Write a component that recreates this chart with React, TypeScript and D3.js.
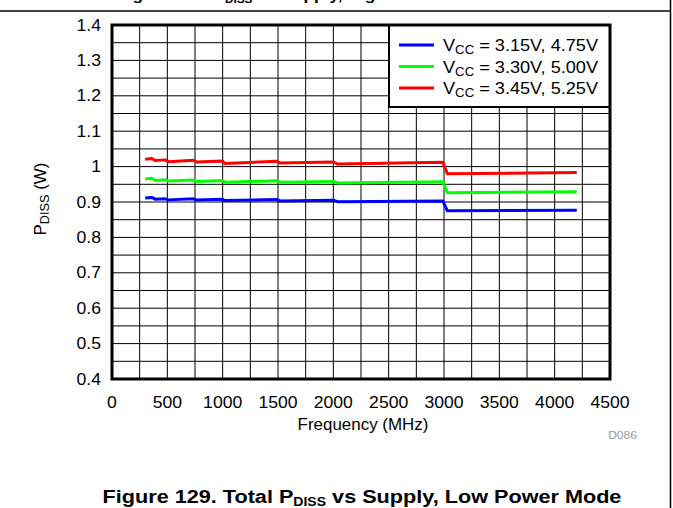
import React from "react";
import * as d3 from "d3";

const freqs = [300, 360, 390, 480, 510, 735, 765, 1000, 1020, 1490, 1520, 2000, 2040, 2990, 3030, 4200];
const vcc345 = [1.021, 1.023, 1.017, 1.019, 1.014, 1.018, 1.013, 1.016, 1.009, 1.015, 1.010, 1.013, 1.007, 1.012, 0.980, 0.983];
const vcc330 = [0.965, 0.967, 0.961, 0.963, 0.959, 0.962, 0.958, 0.961, 0.956, 0.960, 0.956, 0.958, 0.954, 0.957, 0.926, 0.929];
const vcc315 = [0.911, 0.913, 0.908, 0.909, 0.906, 0.909, 0.906, 0.908, 0.904, 0.907, 0.903, 0.905, 0.901, 0.903, 0.875, 0.877];

const xTicks = [0, 500, 1000, 1500, 2000, 2500, 3000, 3500, 4000, 4500];
const yTicks = [0.4, 0.5, 0.6, 0.7, 0.8, 0.9, 1, 1.1, 1.2, 1.3, 1.4];

const series = [
    {name: "3.15V, 4.75V", values: vcc315, color: "#0000ff"},
    {name: "3.30V, 5.00V", values: vcc330, color: "#00ff00"},
    {name: "3.45V, 5.25V", values: vcc345, color: "#ff0000"},
];

const font = "Arial, 'Liberation Sans', sans-serif";

// text slightly stretched sideways, the reference glyphs are wider than plain Arial
const T = ({x, y, sx = 1.1, size = 16, anchor = "start", weight = "normal", fill = "#000", rotate = 0, children}: any) => (
    <text transform={`translate(${x},${y}) rotate(${rotate}) scale(${sx},1)`} textAnchor={anchor}
          fontSize={size} fontWeight={weight} fill={fill}>
        {children}
    </text>
);

export default function App() {
    const W = 673, H = 508;
    const left = 112, right = 610, top = 25, bottom = 379;

    const x = d3.scaleLinear().domain([0, 4500]).range([left, right]);
    const y = d3.scaleLinear().domain([0.4, 1.4]).range([bottom, top]);

    const line = d3.line<number>()
        .x((d, i) => x(freqs[i]))
        .y((d) => y(d));

    const vGrid = d3.range(250, 4500, 250);
    const hGrid = d3.range(0.45, 1.4, 0.05);

    const lgX = 389, lgY = 25, lgW = right - 389, lgH = 82;

    return (
        <svg width={W} height={H} style={{position: "absolute", left: 0, top: 0}} fontFamily={font}>
            <rect width={W} height={H} fill="#fff"/>
            {/* caption of the figure above, cut off by the page crop */}
            <T x={117} y={0} size={15.5} sx={1.12} weight="bold">
                Figure 128. P<tspan fontSize={10.5} dy={3}>DISS</tspan><tspan dy={-3}> vs Supply, High Power Mode</tspan>
            </T>
            <line x1={0} x2={671} y1={11} y2={11} stroke="#000" strokeWidth={1.5}/>
            <line x1={670.5} x2={670.5} y1={0} y2={H} stroke="#000" strokeWidth={1.5}/>

            <g>
                {vGrid.map(v => (
                    <line key={"v" + v} x1={x(v)} x2={x(v)} y1={top} y2={bottom} stroke="#000" strokeWidth={1}/>
                ))}
                {hGrid.map(v => (
                    <line key={"h" + v} x1={left} x2={right} y1={y(v)} y2={y(v)} stroke="#000" strokeWidth={1}/>
                ))}
            </g>

            <rect x={lgX} y={lgY} width={lgW} height={lgH} fill="#fff" stroke="#000" strokeWidth={2}/>
            {series.map((s, i) => (
                <g key={i} transform={`translate(${lgX + 10},${45 + i * 21.5})`}>
                    <line x1={0} x2={35} y1={0} y2={0} stroke={s.color} strokeWidth={3}/>
                    <T x={44} y={6} size={16.5} sx={1.1}>
                        V<tspan fontSize={12} dy={3}>CC</tspan><tspan dy={-3}> = {s.name}</tspan>
                    </T>
                </g>
            ))}

            {series.map((s, i) => (
                <path key={i} d={line(s.values) || ""} fill="none" stroke={s.color} strokeWidth={3}
                      strokeLinejoin="round"/>
            ))}

            <rect x={left} y={top} width={right - left} height={bottom - top} fill="none" stroke="#000" strokeWidth={3}/>

            {yTicks.map(v => (
                <T key={v} x={101} y={y(v) + 5.5} anchor="end">{String(v)}</T>
            ))}
            {xTicks.map(v => (
                <T key={v} x={x(v)} y={408} anchor="middle">{v}</T>
            ))}
            <T x={363} y={430} anchor="middle" sx={1.06}>Frequency (MHz)</T>
            <T x={46} y={199} rotate={-90} anchor="middle" sx={1.06}>
                P<tspan fontSize={12} dy={3}>DISS</tspan><tspan dy={-3}> (W)</tspan>
            </T>
            <T x={637} y={439} anchor="end" size={11.5} sx={1.05} fill="#999">D086</T>

            <T x={362} y={503} size={18.5} sx={1.17} anchor="middle" weight="bold">
                Figure 129. Total P<tspan fontSize={12} dy={3}>DISS</tspan><tspan dy={-3}> vs Supply, Low Power Mode</tspan>
            </T>
        </svg>
    );
}
